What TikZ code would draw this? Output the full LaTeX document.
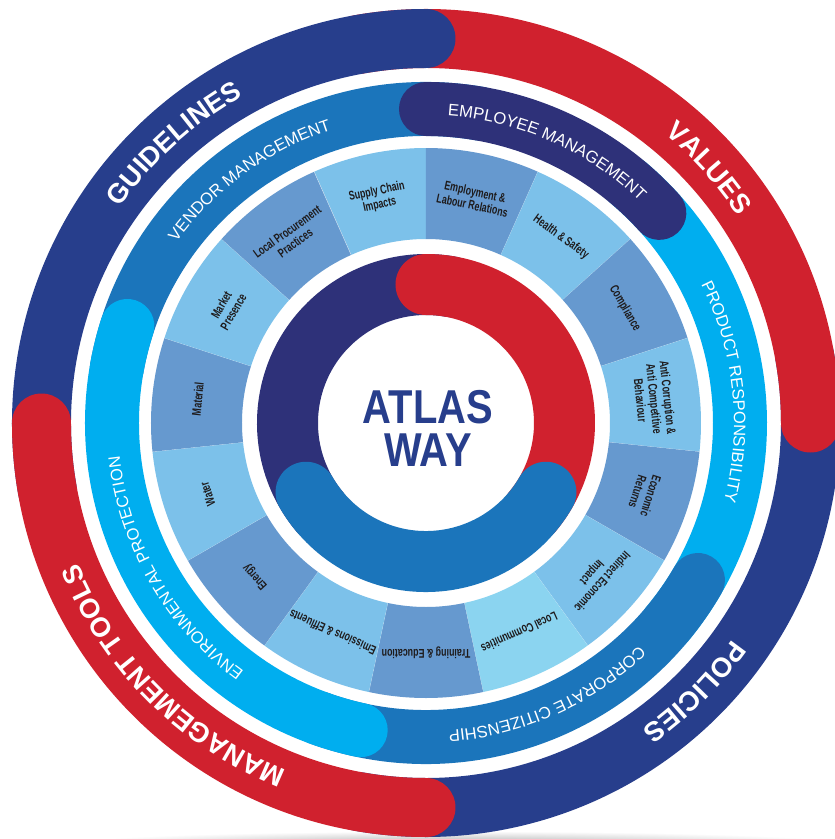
\documentclass[tikz,border=0pt]{standalone}
\usepackage{fontspec}
\usepackage{xcolor}
\usepackage{tikz}
\usetikzlibrary{decorations.text}

\newfontfamily\bandfont{Liberation Sans}
\newfontfamily\segfont[FakeStretch=0.7]{Liberation Sans}
\newfontfamily\titlefont[FakeStretch=0.84]{Liberation Sans}

\definecolor{atlasblue}{RGB}{39,62,140}
\definecolor{atlasred}{RGB}{208,33,46}
\definecolor{atlasnavy}{RGB}{46,49,121}
\definecolor{midblue}{RGB}{27,117,187}
\definecolor{cyanblue}{RGB}{0,174,239}
\definecolor{seglight}{RGB}{124,193,234}
\definecolor{segdark}{RGB}{102,153,207}
\definecolor{segpale}{RGB}{139,212,240}
\definecolor{segink}{RGB}{30,27,28}

\begin{document}
\begin{tikzpicture}[
    outerband/.style={line width=1.475cm, line cap=round},
    midband/.style={line width=1.35cm, line cap=round},
    innerband/.style={line width=1.525cm, line cap=round},
    bigtext/.style={decorate, decoration={text along path, text align=center,
        text={|\bandfont\bfseries\fontsize{19.5}{22}\selectfont\color{white}|#1}}},
    ringtext/.style={decorate, decoration={text along path, text align=center,
        text={|\bandfont\fontsize{11.8}{14}\selectfont\color{white}|#1}}},
    segtext/.style={font=\segfont\bfseries\fontsize{9}{9.8}\selectfont, text=segink, align=center, inner sep=1pt},
    title/.style={font=\titlefont\bfseries\fontsize{33.8}{30.6}\selectfont, text=atlasblue, align=center},
]

% ===== Page frame =====
\useasboundingbox (-10.65,-10.4) rectangle (10.225,10.575);
\clip (-10.65,-10.4) rectangle (10.225,10.575);
\fill[white] (-10.65,-10.4) rectangle (10.225,10.575);

% soft shadow under the disc
\shade[inner color=black!30, outer color=white] (0.8,-10.5) ellipse (9.5 and 0.3);

% ===== Outer ring =====
\draw[outerband, atlasblue] (10:9.6125) arc[start angle=10, end angle=-100, radius=9.6125];   % policies
\draw[outerband, atlasred] (100:9.6125) arc[start angle=100, end angle=0, radius=9.6125];     % values
\draw[outerband, atlasblue] (190:9.6125) arc[start angle=190, end angle=90, radius=9.6125];  % guidelines
\draw[outerband, atlasred] (270:9.6125) arc[start angle=270, end angle=180, radius=9.6125];  % management tools

\path[bigtext=GUIDELINES] (172:9.3625) arc[start angle=172, end angle=92, radius=9.3625];
\path[bigtext=VALUES] (82:9.3625) arc[start angle=82, end angle=2, radius=9.3625];
\path[bigtext=POLICIES] (-5:9.3625) arc[start angle=-5, end angle=-85, radius=9.3625];
\path[bigtext=MANAGEMENT TOOLS] (265:9.3625) arc[start angle=265, end angle=185, radius=9.3625];

% ===== Second ring =====
\draw[midband, midblue] (170:7.85) arc[start angle=170, end angle=80, radius=7.85];
\draw[midband, cyanblue] (50:7.85) arc[start angle=50, end angle=-40, radius=7.85];
\draw[midband, midblue] (-30:7.85) arc[start angle=-30, end angle=-110, radius=7.85];
\draw[midband, cyanblue] (258:7.85) arc[start angle=258, end angle=162, radius=7.85];
\draw[midband, atlasnavy] (90:7.85) arc[start angle=90, end angle=42, radius=7.85];

\path[ringtext=VENDOR MANAGEMENT] (162:7.7) arc[start angle=162, end angle=90, radius=7.7];
\path[ringtext=EMPLOYEE MANAGEMENT] (90:7.7) arc[start angle=90, end angle=42, radius=7.7];
\path[ringtext=PRODUCT RESPONSIBILITY] (42:7.7) arc[start angle=42, end angle=-30, radius=7.7];
\path[ringtext=CORPORATE CITIZENSHIP] (-30:7.7) arc[start angle=-30, end angle=-102, radius=7.7];
\path[ringtext=ENVIRONMENTAL PROTECTION] (258:7.7) arc[start angle=258, end angle=162, radius=7.7];

% ===== Topic segments =====
\foreach \col [count=\i from 0] in {seglight, segdark, seglight, segdark, seglight,
        segdark, seglight, segpale, segdark, seglight, segdark, seglight, segdark,
        seglight, segdark} {
    \pgfmathsetmacro\sa{114-24*\i}
    \pgfmathsetmacro\ea{90-24*\i}
    \fill[\col] (\sa:4.6) arc[start angle=\sa, end angle=\ea, radius=4.6]
        -- (\ea:6.875) arc[start angle=\ea, end angle=\sa, radius=6.875] -- cycle;
    \draw[white, line width=0.3pt, opacity=0.6] (\ea:4.6) -- (\ea:6.875);
}

\foreach \i/\txt in {
    0/{Supply Chain\\Impacts},
    1/{Employment \&\\Labour Relations},
    2/{Health \& Safety},
    3/{Compliance},
    4/{Anti Corruption \&\\Anti Competitive\\Behaviour},
    5/{Economic\\Returns},
    6/{Indirect Economic\\Impact},
    7/{Local Communities},
    8/{Training \& Education},
    9/{Emissions \& Effluents},
    10/{Energy},
    11/{Water},
    12/{Material},
    13/{Market\\Presence},
    14/{Local Procurement\\Practices}} {
    \pgfmathsetmacro\ang{102-24*\i}
    \node[segtext, rotate=\ang-90] (seg\i) at (\ang:5.7375) {\txt};
}

% ===== Inner ring =====
\draw[innerband, atlasnavy] (220:3.4625) arc[start angle=220, end angle=80, radius=3.4625];
\draw[innerband, atlasred] (90:3.4625) arc[start angle=90, end angle=-40, radius=3.4625];
\draw[innerband, midblue] (-30:3.4625) arc[start angle=-30, end angle=-150, radius=3.4625];

% ===== Centre =====
\node[title] (title) at (0.05,-0.14) {ATLAS\\WAY};

\end{tikzpicture}
\end{document}
